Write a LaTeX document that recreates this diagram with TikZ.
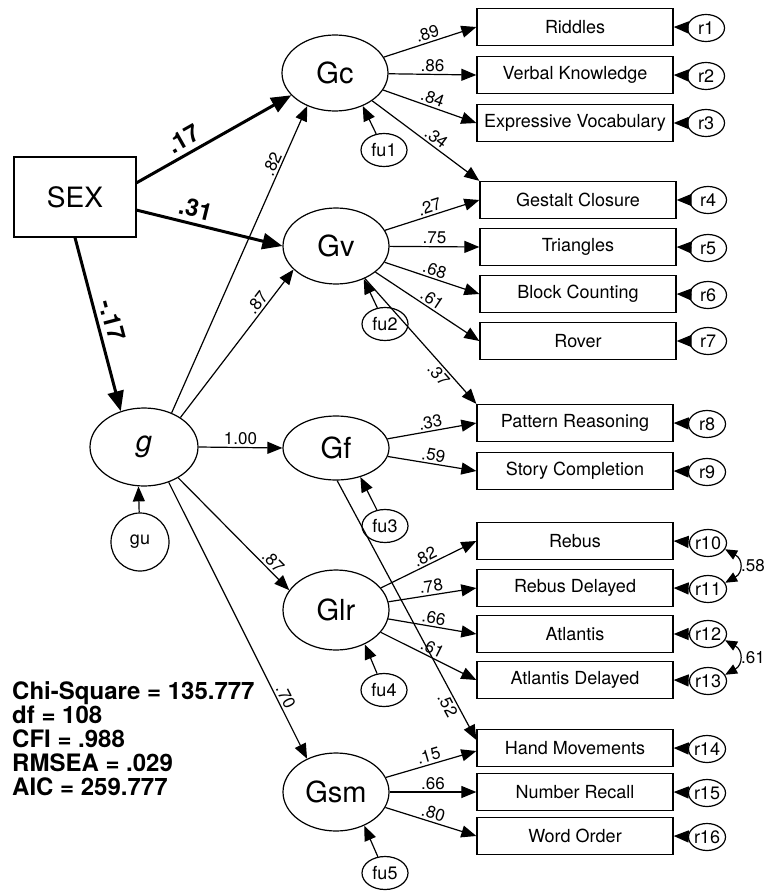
\documentclass[tikz,border=0pt]{standalone}
\usepackage{fontspec}
\setmainfont{TeX Gyre Heros}
\usetikzlibrary{shapes.geometric, arrows.meta}

\tikzset{
  latent/.style = {draw, ellipse, line width = 1.2pt, minimum width = 106pt, minimum height = 76pt, inner sep = 0, font = \fontsize{29}{32}\selectfont},
  manifest/.style = {draw, rectangle, line width = 1.3pt, minimum width = 196pt, minimum height = 37pt, inner sep = 0, font = \fontsize{18}{20}\selectfont},
  resid/.style = {draw, ellipse, line width = 1.2pt, minimum width = 37pt, minimum height = 27pt, inner sep = 0, font = \fontsize{18}{20}\selectfont},
  dist/.style = {draw, ellipse, line width = 1.2pt, minimum width = 46pt, minimum height = 33pt, inner sep = 0, font = \fontsize{18}{20}\selectfont},
  load/.style = {-{Triangle[length = 15pt, width = 12pt]}, line width = 1.2pt},
  boldload/.style = {-{Triangle[length = 20pt, width = 16pt]}, line width = 3pt},
  corr/.style = {{Triangle[length = 12pt, width = 10pt]}-{Triangle[length = 12pt, width = 10pt]}, line width = 1.2pt},
  coef/.style = {font = \fontsize{17}{19}\selectfont, inner sep = 2pt},
  boldcoef/.style = {font = \bfseries\fontsize{24}{26}\selectfont, inner sep = 5pt}
}

\begin{document}
\begin{tikzpicture}[x = 1pt, y = -1pt]
    \useasboundingbox (0, 0) rectangle (767, 891);

    % factors
    \node [manifest, minimum width = 122pt, minimum height = 80pt, font = \fontsize{28}{30}\selectfont] (sex) at (75, 197) {SEX};
    \node [latent, minimum width = 108pt, minimum height = 78pt] (g) at (144, 447) {\textit{g}};
    \node [latent] (gc) at (335, 73) {Gc};
    \node [latent] (gv) at (336, 246) {Gv};
    \node [latent, minimum height = 64pt] (gf) at (336, 448) {Gf};
    \node [latent, minimum height = 80pt] (glr) at (336, 610) {Glr};
    \node [latent, minimum height = 78pt] (gsm) at (336, 792) {Gsm};

    \node [draw, circle, line width = 1.2pt, minimum size = 58pt, inner sep = 0, font = \fontsize{18}{20}\selectfont] (gu) at (140, 542) {gu};
    \node [dist] (fu1) at (384, 150) {fu1};
    \node [dist] (fu2) at (385, 324) {fu2};
    \node [dist] (fu3) at (385, 526) {fu3};
    \node [dist] (fu4) at (384, 690) {fu4};
    \node [dist] (fu5) at (385, 873) {fu5};

    % subtests
    \node [manifest] (riddles) at (575, 27) {Riddles};
    \node [manifest] (verbal) at (575, 75) {Verbal Knowledge};
    \node [manifest] (expressive) at (575, 123) {Expressive Vocabulary};
    \node [manifest] (gestalt) at (578, 200) {Gestalt Closure};
    \node [manifest] (triangles) at (578, 247) {Triangles};
    \node [manifest] (block) at (578, 294) {Block Counting};
    \node [manifest] (rover) at (578, 341) {Rover};
    \node [manifest] (pattern) at (575, 423) {Pattern Reasoning};
    \node [manifest] (story) at (575, 471) {Story Completion};
    \node [manifest] (rebus) at (575, 541) {Rebus};
    \node [manifest] (rebusd) at (575, 588) {Rebus Delayed};
    \node [manifest] (atlantis) at (575, 634) {Atlantis};
    \node [manifest] (atlantisd) at (575, 680) {Atlantis Delayed};
    \node [manifest] (hand) at (575, 748) {Hand Movements};
    \node [manifest] (number) at (575, 792) {Number Recall};
    \node [manifest] (word) at (575, 836) {Word Order};

    % residuals
    \node [resid] (r1) at (706, 28) {r1};
    \node [resid] (r2) at (706, 76) {r2};
    \node [resid] (r3) at (706, 123) {r3};
    \node [resid] (r4) at (708, 200) {r4};
    \node [resid] (r5) at (708, 248) {r5};
    \node [resid] (r6) at (708, 295) {r6};
    \node [resid] (r7) at (708, 341) {r7};
    \node [resid] (r8) at (707, 424) {r8};
    \node [resid] (r9) at (707, 472) {r9};
    \node [resid] (r10) at (708, 543) {r10};
    \node [resid] (r11) at (708, 589) {r11};
    \node [resid] (r12) at (708, 634) {r12};
    \node [resid] (r13) at (708, 681) {r13};
    \node [resid] (r14) at (707, 749) {r14};
    \node [resid] (r15) at (707, 793) {r15};
    \node [resid] (r16) at (707, 837) {r16};

    % structural paths
    \draw [boldload] (sex.13) -- node [boldcoef, above, sloped, pos = 0.35] {.17} (gc.207);
    \draw [boldload] (sex.-12) -- node [boldcoef, above, sloped, pos = 0.38] {.31} (gv.west);
    \draw [boldload] (sex.south) -- node [boldcoef, above, sloped, pos = 0.5] {-.17} (g.123);

    \draw [load] (g.51) -- node [coef, above, sloped, pos = 0.8] {.82} (gc.230);
    \draw [load] (g.39) -- node [coef, above, sloped, pos = 0.74] {.87} (gv.209);
    \draw [load] (g.east) -- node [coef, above] {1.00} (gf.west);
    \draw [load] (g.-42) -- node [coef, above, sloped, pos = 0.8] {.87} (glr.157);
    \draw [load] (g.-55) -- node [coef, above, sloped, pos = 0.79] {.70} (gsm.131);

    \draw [load] (gu) -- (g.262);
    \draw [load] (fu1) -- (gc.310);
    \draw [load] (fu2) -- (gv.310);
    \draw [load] (fu3) -- (gf.310);
    \draw [load] (fu4) -- (glr.310);
    \draw [load] (fu5) -- (gsm.310);

    % loadings
    \draw [load] (gc) -- node [coef, above, sloped] {.89} (riddles.west);
    \draw [load] (gc) -- node [coef, above, sloped] {.86} (verbal.west);
    \draw [load] (gc) -- node [coef, above, sloped] {.84} (expressive.west);
    \draw [load] (gc) -- node [coef, above, sloped, pos = 0.55] {.34} (gestalt.north west);

    \draw [load] (gv) -- node [coef, above, sloped] {.27} (gestalt.west);
    \draw [load] (gv) -- node [coef, above, sloped] {.75} (triangles.west);
    \draw [load] (gv) -- node [coef, above, sloped] {.68} (block.west);
    \draw [load] (gv) -- node [coef, above, sloped] {.61} (rover.west);
    \draw [load] (gv) -- node [coef, below, sloped, pos = 0.72] {.37} (pattern.north west);

    \draw [load] (gf) -- node [coef, above, sloped] {.33} (pattern.west);
    \draw [load] (gf) -- node [coef, above, sloped] {.59} (story.west);
    \draw [load] (gf.272) -- node [coef, below, sloped, pos = 0.85] {.52} ([yshift = 8pt]hand.west);

    \draw [load] (glr) -- node [coef, above, sloped] {.82} (rebus.west);
    \draw [load] (glr) -- node [coef, above, sloped] {.78} (rebusd.west);
    \draw [load] (glr) -- node [coef, above, sloped] {.66} (atlantis.west);
    \draw [load] (glr) -- node [coef, above, sloped] {.61} (atlantisd.west);

    \draw [load] (gsm) -- node [coef, above, sloped] {.15} ([yshift = -3pt]hand.west);
    \draw [load] (gsm) -- node [coef, above, sloped] {.66} (number.west);
    \draw [load] (gsm) -- node [coef, above, sloped] {.80} (word.west);

    % residual arrows
    \draw [load] (r1) -- (riddles.east);
    \draw [load] (r2) -- (verbal.east);
    \draw [load] (r3) -- (expressive.east);
    \draw [load] (r4) -- (gestalt.east);
    \draw [load] (r5) -- (triangles.east);
    \draw [load] (r6) -- (block.east);
    \draw [load] (r7) -- (rover.east);
    \draw [load] (r8) -- (pattern.east);
    \draw [load] (r9) -- (story.east);
    \draw [load] (r10) -- (rebus.east);
    \draw [load] (r11) -- (rebusd.east);
    \draw [load] (r12) -- (atlantis.east);
    \draw [load] (r13) -- (atlantisd.east);
    \draw [load] (r14) -- (hand.east);
    \draw [load] (r15) -- (number.east);
    \draw [load] (r16) -- (word.east);

    % correlated residuals
    \draw [corr] (r10.-20) .. controls +(18, 10) and +(18, -10) .. node [coef, right] {.58} (r11.20);
    \draw [corr] (r12.-20) .. controls +(18, 10) and +(18, -10) .. node [coef, right] {.61} (r13.20);

    % fit
    \node [anchor = north west, align = left, inner sep = 0, font = \bfseries\fontsize{24}{24}\selectfont] (fit) at (12, 681) {Chi-Square = 135.777\\df = 108\\CFI = .988\\RMSEA = .029\\AIC = 259.777};
  \end{tikzpicture}
\end{document}
